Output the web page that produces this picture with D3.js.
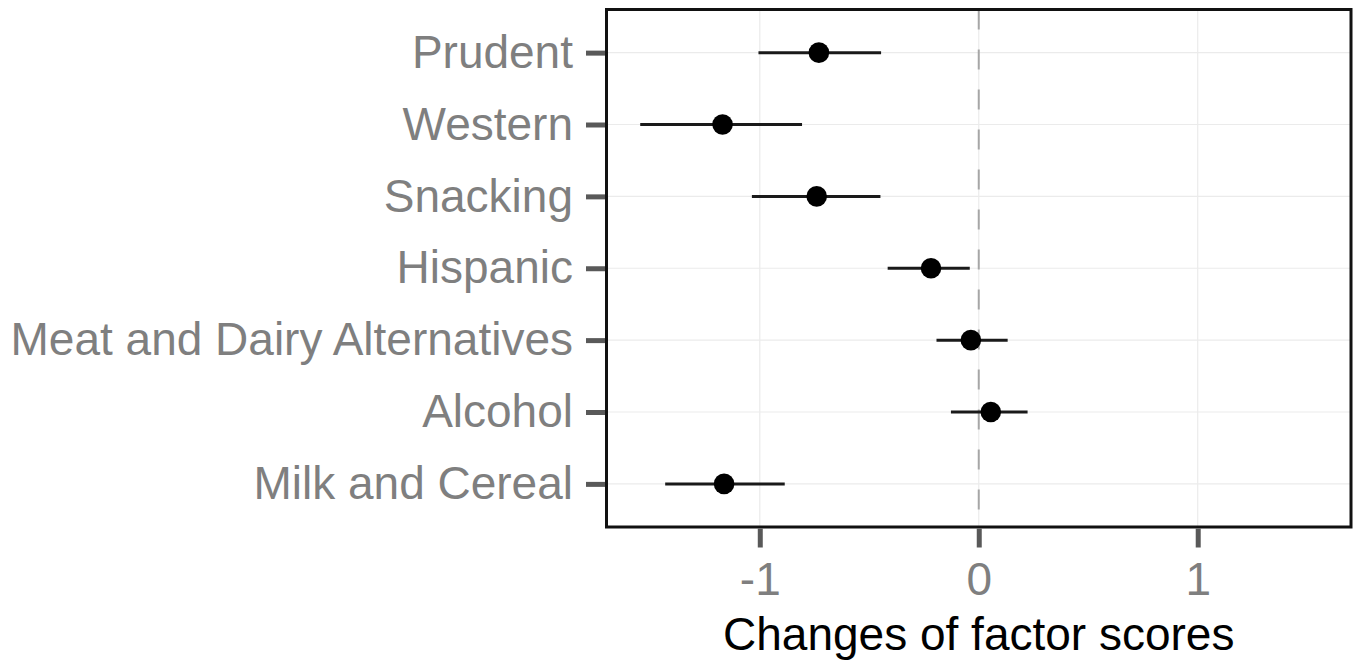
<!DOCTYPE html>
<html>
<head>
<meta charset="utf-8">
<script src="https://cdn.jsdelivr.net/npm/d3@7"></script>
<style>
  html, body { margin: 0; padding: 0; background: #fff; }
  svg { display: block; }
</style>
</head>
<body>
<svg id="chart" width="1363" height="662"></svg>
<script>
const categories = ["Prudent", "Western", "Snacking", "Hispanic", "Meat and Dairy Alternatives", "Alcohol", "Milk and Cereal"];
const estimates  = [-0.730, -1.170, -0.740, -0.218, -0.036, 0.055, -1.163];
const lowerCI    = [-1.006, -1.546, -1.036, -0.416, -0.193, -0.127, -1.432];
const upperCI    = [-0.446, -0.807, -0.449, -0.041, 0.132, 0.223, -0.886];
const xTicks     = [-1, 0, 1];
const xDomain    = [-1.7, 1.7];
const xTitle     = "Changes of factor scores";

const svg = d3.select("#chart");
const panel = { left: 606.5, right: 1351, top: 9.5, bottom: 527 };

const x = d3.scaleLinear().domain(xDomain).range([panel.left, panel.right]);
const y = d3.scalePoint().domain(categories).range([panel.top, panel.bottom]).padding(0.6);

const font = "'Liberation Sans', Arial, Helvetica, sans-serif";
const fs = 46;
const data = categories.map((c, i) => ({ c, est: estimates[i], lo: lowerCI[i], hi: upperCI[i] }));

// panel background
svg.append("rect")
  .attr("x", panel.left).attr("y", panel.top)
  .attr("width", panel.right - panel.left).attr("height", panel.bottom - panel.top)
  .attr("fill", "#fff");

// grid lines
const grid = svg.append("g");
grid.selectAll("line.v").data(xTicks).join("line")
  .attr("x1", d => x(d)).attr("x2", d => x(d))
  .attr("y1", panel.top).attr("y2", panel.bottom)
  .attr("stroke", "#ebebeb").attr("stroke-width", 1.2);
grid.selectAll("line.h").data(categories).join("line")
  .attr("x1", panel.left).attr("x2", panel.right)
  .attr("y1", d => y(d)).attr("y2", d => y(d))
  .attr("stroke", "#ebebeb").attr("stroke-width", 1.2);

// dashed reference line at 0
svg.append("line")
  .attr("x1", x(0)).attr("x2", x(0))
  .attr("y1", panel.top).attr("y2", panel.bottom)
  .attr("stroke", "#a6a6a6").attr("stroke-width", 2)
  .attr("stroke-dasharray", "20,20");

// error bars
svg.append("g").selectAll("line").data(data).join("line")
  .attr("x1", d => x(d.lo)).attr("x2", d => x(d.hi))
  .attr("y1", d => y(d.c)).attr("y2", d => y(d.c))
  .attr("stroke", "#1a1a1a").attr("stroke-width", 3);

// points
svg.append("g").selectAll("circle").data(data).join("circle")
  .attr("cx", d => x(d.est)).attr("cy", d => y(d.c))
  .attr("r", 10.3).attr("fill", "#000");

// panel border
svg.append("rect")
  .attr("x", panel.left).attr("y", panel.top)
  .attr("width", panel.right - panel.left).attr("height", panel.bottom - panel.top)
  .attr("fill", "none").attr("stroke", "#111").attr("stroke-width", 3);

// x axis
const xAxis = svg.append("g")
  .attr("transform", `translate(0,${panel.bottom + 1.5})`)
  .call(d3.axisBottom(x).tickValues(xTicks).tickSize(19).tickPadding(15).tickFormat(d3.format("d")));
xAxis.select(".domain").remove();
xAxis.selectAll(".tick line").attr("stroke", "#595959").attr("stroke-width", 5);
xAxis.selectAll(".tick text")
  .attr("fill", "#7f7f7f").attr("font-family", font).attr("font-size", fs)
  .text(d => d < 0 ? "-" + Math.abs(d) : d);

// y axis
const yAxis = svg.append("g")
  .attr("transform", `translate(${panel.left - 1.5},0)`)
  .call(d3.axisLeft(y).tickSize(19).tickPadding(13));
yAxis.select(".domain").remove();
yAxis.selectAll(".tick line").attr("stroke", "#595959").attr("stroke-width", 5);
yAxis.selectAll(".tick text")
  .attr("fill", "#7f7f7f").attr("font-family", font).attr("font-size", fs);

// x axis title
svg.append("text")
  .attr("x", (panel.left + panel.right) / 2).attr("y", 650)
  .attr("text-anchor", "middle")
  .attr("font-family", font).attr("font-size", fs).attr("fill", "#000")
  .text(xTitle);
</script>
</body>
</html>
